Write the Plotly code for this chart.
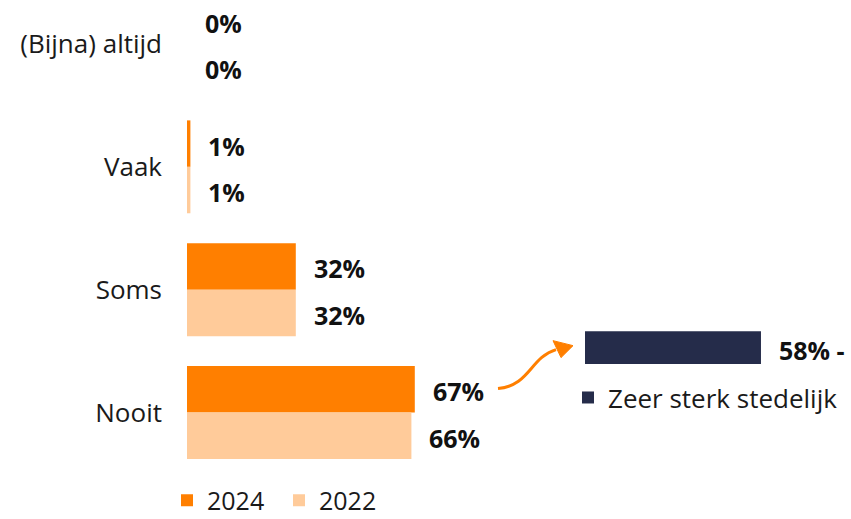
import plotly.graph_objects as go

categories = ["(Bijna) altijd", "Vaak", "Soms", "Nooit"]
values_2024 = [0, 1, 32, 67]
values_2022 = [0, 1, 32, 66]
series_names = ["2024", "2022"]
extra_name = "Zeer sterk stedelijk"
extra_value = [58]

C_2024 = "#FF7F00"
C_2022 = "#FFCB9A"
C_NAVY = "#252C4A"
FONT = "Open Sans"
TXT = "#111111"

OFF = 0  # page body margin removed via post_script
W, H = 851, 560
ML, MR, MT = 187 - OFF, 0, 0
PLOT_BOTTOM = 44 - OFF + 123 * 3.5
MB = H - PLOT_BOTTOM
PW, PH = W - ML - MR, H - MT - MB


def px_x(p):
    return (p - OFF - ML) / PW


def px_y(p):
    return (H - MB - (p - OFF)) / PH


fig = go.Figure()
fig.add_trace(go.Bar(y=categories, x=values_2024, orientation="h", name=series_names[0],
                     marker=dict(color=C_2024, line=dict(width=0)), hoverinfo="skip"))
fig.add_trace(go.Bar(y=categories, x=values_2022, orientation="h", name=series_names[1],
                     marker=dict(color=C_2022, line=dict(width=0)), hoverinfo="skip"))
fig.add_trace(go.Bar(y=[0], x=extra_value, orientation="h", name=extra_name,
                     xaxis="x2", yaxis="y2", width=0.52, legend="legend2",
                     marker=dict(color=C_NAVY, line=dict(width=0)), hoverinfo="skip"))

bw = (1 - 0.244) / 2
for i, cat in enumerate(categories):
    for v, off in ((values_2024[i], -bw / 2), (values_2022[i], bw / 2)):
        fig.add_annotation(x=v, y=i + off, xref="x", yref="y", text=f"<b>{v}%</b>",
                           showarrow=False, xanchor="left", xshift=16, yshift=-2,
                           font=dict(family=FONT, size=25, color=TXT))
fig.add_annotation(x=extra_value[0], y=0, xref="x2", yref="y2", text=f"<b>{extra_value[0]}% -</b>",
                   showarrow=False, xanchor="left", xshift=16, yshift=-2,
                   font=dict(family=FONT, size=25, color=TXT))

# curved arrow
p0 = (498, 389); c1 = (530, 386); c2 = (530, 358); p1 = (556, 350)
path = "M {} {} C {} {}, {} {}, {} {}".format(px_x(p0[0]), px_y(p0[1]), px_x(c1[0]), px_y(c1[1]),
                                              px_x(c2[0]), px_y(c2[1]), px_x(p1[0]), px_y(p1[1]))
fig.add_shape(type="path", path=path, xref="paper", yref="paper",
              line=dict(color=C_2024, width=3))
tri = [(573, 346), (553, 341), (561, 358)]
tpath = "M " + " L ".join(f"{px_x(a)} {px_y(b)}" for a, b in tri) + " Z"
fig.add_shape(type="path", path=tpath, xref="paper", yref="paper",
              line=dict(color=C_2024, width=1), fillcolor=C_2024)

navy_c = px_y(348)
fig.update_layout(
    width=W, height=H,
    margin=dict(l=ML, r=MR, t=MT, b=MB, pad=0),
    paper_bgcolor="white", plot_bgcolor="white",
    barmode="group", bargap=0.244, bargroupgap=0,
    font=dict(family=FONT, color=TXT),
    xaxis=dict(range=[0, PW / 3.4], visible=False, fixedrange=True),
    yaxis=dict(type="category", categoryorder="array", categoryarray=categories,
               range=[3.5, -(44 - OFF) / 123], showgrid=False, zeroline=False, showline=False,
               ticks="", ticklabelstandoff=24, fixedrange=True,
               tickfont=dict(family=FONT, size=26, color="#1a1a1a")),
    xaxis2=dict(domain=[px_x(585), 1.0], range=[0, (W + OFF - 585) / 3.034], anchor="y2",
                visible=False, fixedrange=True),
    yaxis2=dict(domain=[navy_c - 0.066, navy_c + 0.066], range=[-0.5, 0.5], anchor="x2",
                visible=False, fixedrange=True),
    legend=dict(orientation="h", x=px_x(167), xanchor="left", y=px_y(501), yanchor="middle",
                font=dict(family=FONT, size=25, color="#1a1a1a"),
                entrywidth=67, entrywidthmode="pixels", bgcolor="rgba(0,0,0,0)"),
    legend2=dict(orientation="h", x=px_x(568), xanchor="left", y=px_y(398), yanchor="middle",
                 font=dict(family=FONT, size=26, color="#1a1a1a"), bgcolor="rgba(0,0,0,0)"),
    showlegend=True,
)

fig.write_html("out.html", config={"displayModeBar": False},
               post_script="document.body.style.margin='0';")
